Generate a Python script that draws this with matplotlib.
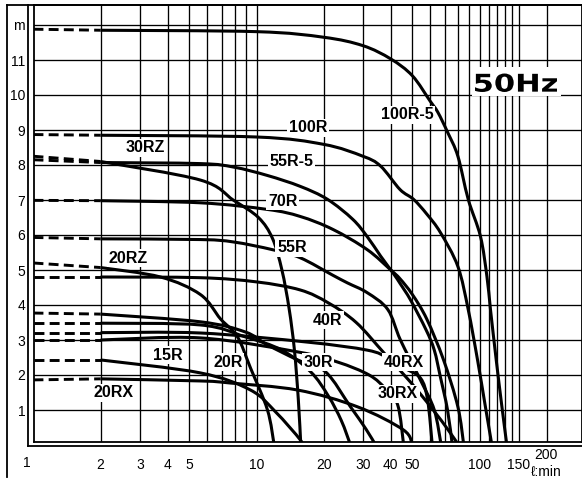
import numpy as np
import matplotlib
matplotlib.use("Agg")
import matplotlib.pyplot as plt
from matplotlib.lines import Line2D
from matplotlib.path import Path
from matplotlib.patches import PathPatch, Rectangle
from matplotlib.textpath import TextPath
from matplotlib.font_manager import FontProperties
from matplotlib.transforms import Affine2D

plt.rcParams['font.family'] = ['Liberation Sans', 'DejaVu Sans']

# ---------------- data (flow l/min, head m) ----------------
names = ["100R-5", "100R", "30RZ", "55R-5", "70R", "55R", "20RZ", "40R",
         "30R", "20R", "40RX", "30RX", "15R", "20RX"]

shutoff = {"100R-5": 11.88, "100R": 8.87, "30RZ": 8.25, "55R-5": 8.15, "70R": 6.99,
           "55R": 5.93, "20RZ": 5.2, "40R": 4.8, "30R": 3.77, "20R": 3.48,
           "40RX": 3.21, "30RX": 3.0, "15R": 2.43, "20RX": 1.86}

q_100r5 = [2, 10, 20, 30, 40, 50, 60, 65, 72, 80, 89, 101, 108, 112, 119, 126, 132.6]
h_100r5 = [11.85, 11.81, 11.65, 11.41, 11.03, 10.55, 9.83, 9.51, 8.93, 8.25, 7.02, 5.96, 4.81, 3.87, 2.4, 1.1, 0]

q_100r = [2, 10, 20, 30, 36, 44, 50.6, 58, 66.8, 80, 89, 98, 105.6, 113.6]
h_100r = [8.85, 8.8, 8.59, 8.25, 7.97, 7.3, 7.02, 6.6, 6.07, 5.1, 3.87, 2.43, 1.2, 0]

q_30rz = [2, 5.6, 7.9, 10.2, 11.8, 13.0, 14.0, 14.8, 15.4, 15.8]
h_30rz = [8.1, 7.57, 6.99, 6.5, 5.9, 5.0, 3.9, 2.7, 1.3, 0]

q_55r5 = [2, 5.6, 7.9, 11.2, 15.7, 20.8, 27, 31.4, 36, 41.1, 44.2, 49.1, 57.6, 62.7, 66.8, 71.9, 75.5]
h_55r5 = [8.07, 8.04, 7.94, 7.7, 7.39, 7.02, 6.45, 5.95, 5.4, 4.9, 4.6, 4.14, 3.29, 2.71, 1.94, 1.0, 0]

q_70r = [2, 5.6, 11.2, 15.7, 22, 31.4, 40, 44, 50, 58, 69, 80, 85]
h_70r = [6.98, 6.92, 6.73, 6.53, 6.16, 5.58, 5.0, 4.75, 4.3, 3.6, 2.43, 1.09, 0]

q_55r = [2, 5.6, 7.9, 11.8, 15.7, 22, 25.6, 31.4, 38.8, 44.2, 54.4, 62.7, 67.3]
h_55r = [5.89, 5.87, 5.8, 5.58, 5.35, 4.85, 4.63, 4.35, 3.87, 3.0, 1.85, 1.0, 0]

q_20rz = [2, 3.71, 5.6, 6.9, 8.2, 9.4, 11.2, 12.0]
h_20rz = [5.07, 4.8, 4.3, 3.6, 3.1, 2.2, 1.0, 0]

q_40r = [2, 5.6, 10, 15.7, 21, 28, 37.3, 49, 62, 72, 80.6]
h_40r = [4.8, 4.78, 4.66, 4.43, 4.06, 3.5, 2.63, 1.8, 1.0, 0.45, 0]

q_30r = [2, 5.6, 8.9, 11.2, 15.3, 20.4, 26.4, 31, 34.2]
h_30r = [3.74, 3.52, 3.23, 2.86, 2.43, 2.09, 1.09, 0.45, 0]

q_20r = [2, 5.6, 8.9, 13, 17.5, 21, 24, 26.4]
h_20r = [3.48, 3.43, 3.09, 2.71, 2.09, 1.4, 0.7, 0]

q_40rx = [2, 5.6, 16.9, 31.4, 38.8, 46, 54.4, 58.5, 61.4]
h_40rx = [3.21, 3.2, 2.94, 2.71, 2.49, 2.2, 1.91, 1.29, 0]

q_30rx = [2, 5.6, 15.3, 23.1, 32, 38, 43, 45.7]
h_30rx = [3.0, 3.06, 2.66, 2.37, 2.0, 1.6, 1.14, 0]

q_15r = [2, 5.6, 9.4, 12.2, 15.7, 15.8]
h_15r = [2.43, 2.06, 1.57, 0.94, 0.15, 0]

q_20rx = [2, 5.6, 7.65, 15.3, 28.4, 45.6, 49.9]
h_20rx = [1.89, 1.83, 1.77, 1.57, 1.09, 0.43, 0]

curves = {"100R-5": (q_100r5, h_100r5), "100R": (q_100r, h_100r), "30RZ": (q_30rz, h_30rz),
          "55R-5": (q_55r5, h_55r5), "70R": (q_70r, h_70r), "55R": (q_55r, h_55r),
          "20RZ": (q_20rz, h_20rz), "40R": (q_40r, h_40r), "30R": (q_30r, h_30r),
          "20R": (q_20r, h_20r), "40RX": (q_40rx, h_40rx), "30RX": (q_30rx, h_30rx),
          "15R": (q_15r, h_15r), "20RX": (q_20rx, h_20rx)}

# label positions (flow, head)
label_pos = {"100R-5": (47.3, 9.43), "100R": (17.0, 9.06), "30RZ": (3.17, 8.49),
             "55R-5": (14.4, 8.09), "70R": (13.1, 6.97), "55R": (14.4, 5.63),
             "20RZ": (2.65, 5.34), "40R": (20.9, 3.57), "15R": (4.01, 2.57),
             "20R": (7.45, 2.37), "30R": (18.9, 2.37), "40RX": (45.8, 2.37),
             "30RX": (43.1, 1.46), "20RX": (2.28, 1.49)}

x_ticks = [2, 3, 4, 5, 10, 20, 30, 40, 50, 100, 150]
x_tick_labels = ["2", "3", "4", "5", "10", "20", "30", "40", "50", "100", "150"]
x_grid = [2, 3, 4, 5, 6, 7, 8, 9, 10, 20, 30, 40, 50, 60, 70, 80, 90, 100,
          110, 120, 130, 140, 150, 200]
y_ticks = [1, 2, 3, 4, 5, 6, 7, 8, 9, 10, 11, 12]
y_tick_labels = ["1", "2", "3", "4", "5", "6", "7", "8", "9", "10", "11", "m"]

# ---------------- figure ----------------
W, H = 582, 479
DEC, UNIT = 223.0, 35.0  # px per decade / px per metre
fig = plt.figure(figsize=(W / 100, H / 100), dpi=100)
ax_left, ax_right, ax_top, ax_bot = 33.5, 582, 4.7, 441.7
ax = fig.add_axes([ax_left / W, 1 - ax_bot / H, (ax_right - ax_left) / W, (ax_bot - ax_top) / H])
ax.set_xscale('log')
ax.set_xlim(1, 10 ** ((ax_right - ax_left) / DEC))
ax.set_ylim((445 - ax_bot) / UNIT, (445 - ax_top) / UNIT)

for xv in x_grid:
    ax.axvline(xv, color='black', lw=0.95, zorder=1)
for yv in y_ticks:
    ax.axhline(yv, color='black', lw=0.95, zorder=1)


def smooth_path(q, h):
    """Smooth drawing path through the read points (Catmull-Rom as Bezier)."""
    X = np.log10(np.asarray(q, float)) * DEC
    Y = np.asarray(h, float) * UNIT
    P = np.column_stack([X, Y])
    n = len(P)
    verts = [P[0]]
    codes = [Path.MOVETO]
    for i in range(n - 1):
        p0 = P[i - 1] if i > 0 else P[i]
        p1, p2 = P[i], P[i + 1]
        p3 = P[i + 2] if i + 2 < n else P[i + 1]
        c1 = p1 + (p2 - p0) / 6.0
        c2 = p2 - (p3 - p1) / 6.0
        verts += [c1, c2, p2]
        codes += [Path.CURVE4] * 3
    V = np.array(verts)
    V[:, 0] = 10 ** (V[:, 0] / DEC)
    V[:, 1] = V[:, 1] / UNIT
    return Path(V, codes)


for name in names:
    q, h = curves[name]
    patch = PathPatch(smooth_path(q, h), facecolor='none', edgecolor='black', lw=2.2,
                      capstyle='butt', zorder=3)
    ax.add_patch(patch)
    ax.plot([1, q[0]], [shutoff[name], h[0]], color='black', lw=2.1,
            dashes=(3.4, 1.8), zorder=3)

for name in names:
    qx, hy = label_pos[name]
    ax.text(qx, hy, name, fontsize=11.5, fontweight='bold', ha='center', va='center',
            zorder=5, bbox=dict(facecolor='white', edgecolor='none', pad=1.2))

ax.set_xticks(x_ticks)
ax.set_xticklabels(x_tick_labels)
ax.xaxis.set_minor_locator(matplotlib.ticker.NullLocator())
ax.set_yticks(y_ticks)
ax.set_yticklabels(y_tick_labels)
ax.tick_params(axis='both', length=0, labelsize=10)
ax.tick_params(axis='x', pad=12)
ax.tick_params(axis='y', pad=6)
for s in ax.spines.values():
    s.set_linewidth(1.3)

# "1" label sits a little left of the axis start; extra labels at 200
fig.text(27 / W, 1 - 463 / H, "1", fontsize=10, ha='center', va='center')
fig.text(546 / W, 1 - 455 / H, "200", fontsize=10, ha='center', va='center')
fig.text(546 / W, 1 - 472 / H, "ℓ:min", fontsize=10, ha='center', va='center')

# "50Hz" in a wide bold face, with a white box behind
px2fig = Affine2D().scale(1.0 / W, 1.0 / H) + fig.transFigure
fig.add_artist(Rectangle((472, H - 96), 89, 29, transform=px2fig, facecolor='white',
                         edgecolor='none', zorder=5))
tp = TextPath((0, 0), "50Hz", size=10, prop=FontProperties(family='DejaVu Sans', weight='bold'))
ext = tp.get_extents()
sx = 82.0 / ext.width
sy = 18.5 / ext.height
tr = Affine2D().translate(-ext.x0, -ext.y0).scale(sx, sy).translate(475, H - 92) + px2fig
fig.add_artist(PathPatch(tp, transform=tr, facecolor='black', edgecolor='none', zorder=6))

# frame lines
def fline(x0, y0, x1, y1, lw=1.3):
    fig.add_artist(Line2D([x0 / W, x1 / W], [1 - y0 / H, 1 - y1 / H], color='black', lw=lw))

fline(7.3, 4.7, 7.3, 477)
fline(7.3, 4.7, 582, 4.7)
fline(28.3, 4.7, 28.3, 445.7)
fline(28.3, 445.7, 582, 445.7)

fig.savefig("out.png", dpi=100)
